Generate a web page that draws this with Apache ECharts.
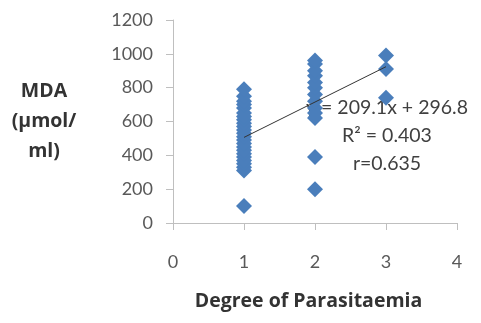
<!DOCTYPE html>
<html>
<head>
<meta charset="utf-8">
<script src="https://cdn.jsdelivr.net/npm/echarts@6/dist/echarts.min.js"></script>
<style>
  html, body { margin: 0; padding: 0; background: #fff; }
  #chart { width: 481px; height: 323px; }
</style>
</head>
<body>
<div id="chart"></div>
<script>
// MDA values, per degree of parasitaemia
const degree1 = [100, 310, 330, 350, 370, 390, 410, 430, 450, 470, 490, 510, 530, 550, 570, 590, 610, 630, 650, 680, 700, 720, 750, 790];
const degree2 = [200, 390, 620, 650, 680, 720, 760, 800, 830, 870, 900, 940, 960];
const degree3 = [740, 910, 990];
const trendX = [1, 3];
const trendY = [506, 924];
const xTicks = [0, 1, 2, 3, 4];
const yTicks = [0, 200, 400, 600, 800, 1000, 1200];

const points = [
  ...degree1.map((v) => [1, v]),
  ...degree2.map((v) => [2, v]),
  ...degree3.map((v) => [3, v]),
];

const font = "Lato, 'Open Sans', sans-serif";
const boldFont = "'Open Sans', Lato, sans-serif";
const chart = echarts.init(document.getElementById("chart"));

chart.setOption({
  animation: false,
  grid: { left: 173, right: 24, top: 20, bottom: 100 },
  xAxis: {
    type: "value",
    min: xTicks[0],
    max: xTicks[xTicks.length - 1],
    interval: 1,
    splitLine: { show: false },
    axisLine: { lineStyle: { color: "#bfbfbf" } },
    axisTick: { show: true, length: 7, lineStyle: { color: "#bfbfbf" } },
    axisLabel: { color: "#595959", fontSize: 18, fontFamily: font, margin: 30 },
    name: "Degree of Parasitaemia",
    nameLocation: "middle",
    nameGap: 68,
    nameTextStyle: {
      color: "#333",
      fontSize: 19.5,
      fontWeight: "bold",
      fontFamily: boldFont,
      padding: [0, 13, 0, 0],
    },
  },
  yAxis: {
    type: "value",
    min: yTicks[0],
    max: yTicks[yTicks.length - 1],
    interval: 200,
    splitLine: { show: false },
    axisLine: { show: true, lineStyle: { color: "#bfbfbf" } },
    axisTick: { show: true, length: 7, lineStyle: { color: "#bfbfbf" } },
    axisLabel: {
      color: "#595959",
      fontSize: 18,
      fontFamily: font,
      margin: 20,
      formatter: (v) => String(v),
    },
  },
  graphic: [
    {
      type: "text",
      x: 44,
      y: 121,
      style: {
        text: "MDA\n(µmol/\nml)",
        fill: "#333",
        font: "bold 19.5px " + boldFont,
        align: "center",
        verticalAlign: "middle",
        lineHeight: 30,
      },
    },
    {
      type: "text",
      x: 387,
      y: 108,
      style: {
        text: "y = 209.1x + 296.8",
        fill: "#404040",
        font: "19.5px " + font,
        align: "center",
        verticalAlign: "middle",
      },
    },
    {
      type: "text",
      x: 387,
      y: 136,
      style: { text: "R² = 0.403", fill: "#404040", font: "19.5px " + font, align: "center", verticalAlign: "middle" },
    },
    {
      type: "text",
      x: 387,
      y: 164,
      style: { text: "r=0.635", fill: "#404040", font: "19.5px " + font, align: "center", verticalAlign: "middle" },
    },
  ],
  series: [
    {
      type: "scatter",
      data: points,
      symbol: "diamond",
      symbolSize: 16,
      itemStyle: { color: "#4a7ebb", opacity: 1 },
      z: 2,
    },
    {
      type: "line",
      data: trendX.map((x, i) => [x, trendY[i]]),
      symbol: "none",
      lineStyle: { color: "#333", width: 1 },
      z: 3,
    },
  ],
});
</script>
</body>
</html>
